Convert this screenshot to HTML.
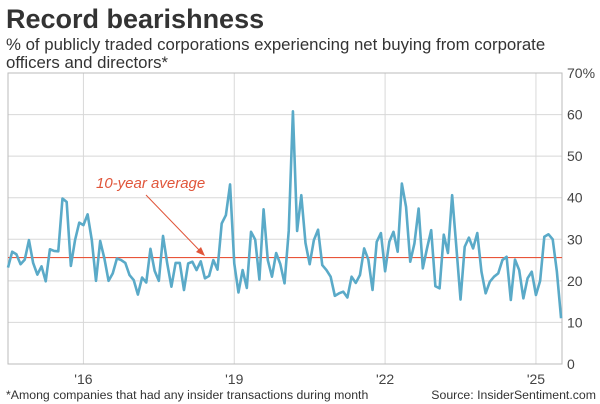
<!DOCTYPE html>
<html><head><meta charset="utf-8"><style>
body{margin:0;background:#fff;font-family:"Liberation Sans",sans-serif;}
#wrap{position:relative;width:600px;height:404px;overflow:hidden;}
</style></head><body>
<div id="wrap">
<svg id="chart" width="600" height="404">
<text x="6" y="28" font-size="27" font-weight="bold" fill="#333">Record bearishness</text>
<text x="6" y="50" font-size="16.8" fill="#333">% of publicly traded corporations experiencing net buying from corporate</text>
<text x="6" y="68" font-size="16.8" fill="#333">officers and directors*</text>
<g id="grid"></g>
<g id="plot"></g>
<text x="6" y="399" font-size="12.3" fill="#333">*Among companies that had any insider transactions during month</text>
<text x="596" y="399" font-size="12.3" fill="#333" text-anchor="end">Source: InsiderSentiment.com</text>
</svg>
</div>
<script>
const values=[23.2,27,26.4,24,25.1,29.8,24.3,21.5,23.5,19.9,27.6,27.2,27.1,39.8,39,23.6,29.8,34,33.4,36,29.8,20,29.6,25.4,20,21.8,25.4,25,24.3,21.4,20.2,16.7,20.8,19.6,27.7,22.4,20,30.8,24.2,18.6,24.3,24.3,17.8,24.2,24.6,22.6,24.7,20.6,21.2,25,22.7,33.8,35.8,43.2,24.2,17.2,22.6,18.3,31.8,29.9,20.3,37.2,25,21,26.7,24,19.4,32,60.8,
32,40.6,29.1,24,29.8,32.3,23.8,22.6,21,16.4,17,17.4,16,21,19.5,21.4,27.8,25.1,17.8,29.4,31.5,22.3,29.4,31.8,27,43.4,37.8,24.6,29,37.4,23,27.8,32.2,18.7,18.2,31.1,26.7,40.6,28.2,15.5,28.2,30.4,27.8,31.5,22.2,17,19.8,21,21.8,25,25.8,15.4,25.1,22.6,15.8,20.6,22.2,16.6,20,30.6,31.2,30,22.2,11];
const yTicks=[0,10,20,30,40,50,60,70];
const yTickLabels=["0","10","20","30","40","50","60","70%"];
const xTickMonths=[18,54,90,126];
const xTickLabels=["'16","'19","'22","'25"];
const average=[25.6];
const L=8,R=562,T=73,B=364;
const x=m=>L+m*4.19;
const y=v=>B-(v/70)*(B-T);
const NS="http://www.w3.org/2000/svg";
function mk(tag,attrs,parent){const e=document.createElementNS(NS,tag);for(const k in attrs)e.setAttribute(k,attrs[k]);parent.appendChild(e);return e;}
const grid=document.getElementById('grid'),plot=document.getElementById('plot');
yTicks.forEach((t,i)=>{
 const ln=mk('line',{x1:L,x2:R,y1:y(t),y2:y(t),stroke:'#d8d8d8','stroke-width':1},grid);
 
 
 const tx=mk('text',{x:R+5,y:y(t)+5,'font-size':14,fill:'#444'},grid);
 tx.textContent=yTickLabels[i];
 
 
});
xTickMonths.forEach((m,i)=>{
 const ln=mk('line',{x1:x(m),x2:x(m),y1:T,y2:B,stroke:'#d8d8d8','stroke-width':1},grid);
 
 
 const tx=mk('text',{x:x(m),y:B+20,'font-size':14,fill:'#444','text-anchor':'middle'},grid);
 tx.textContent=xTickLabels[i];
 
 
});
const fr=mk('rect',{x:L,y:T,width:R-L,height:B-T,fill:'none',stroke:'#bbb','stroke-width':1},grid);


const av=mk('line',{x1:L,x2:R,y1:y(average[0]),y2:y(average[0]),stroke:'#e8553a','stroke-width':1.2},plot);


const pl=mk('polyline',{points:values.map((v,i)=>x(i)+','+y(v)).join(' '),fill:'none',stroke:'#5aaac8','stroke-width':2.6,'stroke-linejoin':'round'},plot);


const at=mk('text',{x:96,y:188,'font-size':15,'font-style':'italic',fill:'#e0553a'},plot);
at.textContent='10-year average';


const ar=mk('line',{x1:146,y1:195,x2:201,y2:252,stroke:'#e0553a','stroke-width':1},plot);


const ah=mk('polygon',{points:'205,256 196,252 201,247',fill:'#e0553a'},plot);


</script>
</body></html>
